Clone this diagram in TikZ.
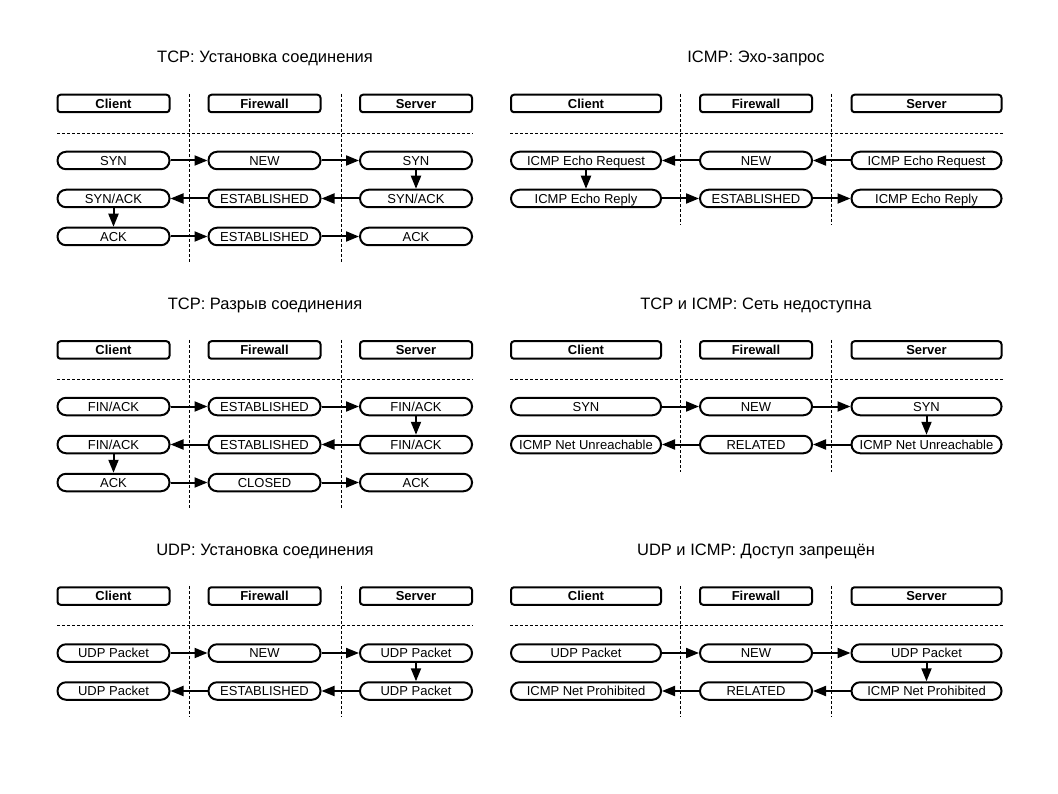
\documentclass[tikz,border=0pt]{standalone}
\usepackage{fontspec}
\setmainfont{Liberation Sans}
\usetikzlibrary{arrows.meta}
\tikzset{
  hdr/.style={draw, line width=2pt, rounded corners=3pt, minimum height=17.5pt,
    inner sep=0pt, font=\bfseries\fontsize{13}{15}\selectfont, text height=9.3pt, text depth=0pt},
  pill/.style={draw, line width=2pt, rounded corners=8.6pt, minimum height=17.5pt,
    inner sep=0pt, font=\fontsize{13}{15}\selectfont, text height=9.3pt, text depth=0pt},
  nw/.style={minimum width=112pt},
  ww/.style={minimum width=150pt},
  msg/.style={-{Triangle[length=13pt,width=10pt]}, line width=2pt},
  sep/.style={dash pattern=on 3pt off 2pt, line width=0.8pt},
  ttl/.style={font=\fontsize{16.5}{19}\selectfont, inner sep=0pt, text height=11.8pt, text depth=0pt}
}
\begin{document}
\begin{tikzpicture}[x=1pt,y=-1pt]
\useasboundingbox (0,0) rectangle (1058,794);
% ---------------- Panel A: TCP handshake
\node[ttl] (At) at (265,57) {TCP: Установка соединения};
\node[hdr,nw] (Ahc) at (113.5,103.5) {Client};
\node[hdr,nw] (Ahf) at (264.5,103.5) {Firewall};
\node[hdr,nw] (Ahs) at (416,103.5) {Server};
\coordinate (Ad1) at (57,133); \coordinate (Ad2) at (473,133);
\coordinate (Av1t) at (189,94); \coordinate (Av1b) at (189,263);
\coordinate (Av2t) at (341,94); \coordinate (Av2b) at (341,263);
\draw[sep] (Ad1) -- (Ad2); \draw[sep] (Av1t) -- (Av1b); \draw[sep] (Av2t) -- (Av2b);
\node[pill,nw] (Ac1) at (113.5,160.5) {SYN};
\node[pill,nw] (Af1) at (264.5,160.5) {NEW};
\node[pill,nw] (As1) at (416,160.5) {SYN};
\node[pill,nw] (Ac2) at (113.5,198.5) {SYN/ACK};
\node[pill,nw] (Af2) at (264.5,198.5) {ESTABLISHED};
\node[pill,nw] (As2) at (416,198.5) {SYN/ACK};
\node[pill,nw] (Ac3) at (113.5,236.5) {ACK};
\node[pill,nw] (Af3) at (264.5,236.5) {ESTABLISHED};
\node[pill,nw] (As3) at (416,236.5) {ACK};
\draw[msg] (Ac1) -- (Af1); \draw[msg] (Af1) -- (As1); \draw[msg] (As1) -- (As2);
\draw[msg] (As2) -- (Af2); \draw[msg] (Af2) -- (Ac2); \draw[msg] (Ac2) -- (Ac3);
\draw[msg] (Ac3) -- (Af3); \draw[msg] (Af3) -- (As3);
% ---------------- Panel B: ICMP echo
\node[ttl] (Bt) at (756,57) {ICMP: Эхо-запрос};
\node[hdr,ww] (Bhc) at (586,103.5) {Client};
\node[hdr,nw] (Bhf) at (756,103.5) {Firewall};
\node[hdr,ww] (Bhs) at (926.5,103.5) {Server};
\coordinate (Bd1) at (510,133); \coordinate (Bd2) at (1004,133);
\coordinate (Bv1t) at (680,94); \coordinate (Bv1b) at (680,225);
\coordinate (Bv2t) at (831,94); \coordinate (Bv2b) at (831,225);
\draw[sep] (Bd1) -- (Bd2); \draw[sep] (Bv1t) -- (Bv1b); \draw[sep] (Bv2t) -- (Bv2b);
\node[pill,ww] (Bc1) at (586,160.5) {ICMP Echo Request};
\node[pill,nw] (Bf1) at (756,160.5) {NEW};
\node[pill,ww] (Bs1) at (926.5,160.5) {ICMP Echo Request};
\node[pill,ww] (Bc2) at (586,198.5) {ICMP Echo Reply};
\node[pill,nw] (Bf2) at (756,198.5) {ESTABLISHED};
\node[pill,ww] (Bs2) at (926.5,198.5) {ICMP Echo Reply};
\draw[msg] (Bs1) -- (Bf1); \draw[msg] (Bf1) -- (Bc1); \draw[msg] (Bc1) -- (Bc2);
\draw[msg] (Bc2) -- (Bf2); \draw[msg] (Bf2) -- (Bs2);
% ---------------- Panel C: TCP teardown
\node[ttl] (Ct) at (265,303.5) {TCP: Разрыв соединения};
\node[hdr,nw] (Chc) at (113.5,350) {Client};
\node[hdr,nw] (Chf) at (264.5,350) {Firewall};
\node[hdr,nw] (Chs) at (416,350) {Server};
\coordinate (Cd1) at (57,379); \coordinate (Cd2) at (473,379);
\coordinate (Cv1t) at (189,340); \coordinate (Cv1b) at (189,509);
\coordinate (Cv2t) at (341,340); \coordinate (Cv2b) at (341,509);
\draw[sep] (Cd1) -- (Cd2); \draw[sep] (Cv1t) -- (Cv1b); \draw[sep] (Cv2t) -- (Cv2b);
\node[pill,nw] (Cc1) at (113.5,406.5) {FIN/ACK};
\node[pill,nw] (Cf1) at (264.5,406.5) {ESTABLISHED};
\node[pill,nw] (Cs1) at (416,406.5) {FIN/ACK};
\node[pill,nw] (Cc2) at (113.5,444.5) {FIN/ACK};
\node[pill,nw] (Cf2) at (264.5,444.5) {ESTABLISHED};
\node[pill,nw] (Cs2) at (416,444.5) {FIN/ACK};
\node[pill,nw] (Cc3) at (113.5,482.5) {ACK};
\node[pill,nw] (Cf3) at (264.5,482.5) {CLOSED};
\node[pill,nw] (Cs3) at (416,482.5) {ACK};
\draw[msg] (Cc1) -- (Cf1); \draw[msg] (Cf1) -- (Cs1); \draw[msg] (Cs1) -- (Cs2);
\draw[msg] (Cs2) -- (Cf2); \draw[msg] (Cf2) -- (Cc2); \draw[msg] (Cc2) -- (Cc3);
\draw[msg] (Cc3) -- (Cf3); \draw[msg] (Cf3) -- (Cs3);
% ---------------- Panel D: TCP & ICMP unreachable
\node[ttl] (Dt) at (756,303.5) {TCP и ICMP: Сеть недоступна};
\node[hdr,ww] (Dhc) at (586,350) {Client};
\node[hdr,nw] (Dhf) at (756,350) {Firewall};
\node[hdr,ww] (Dhs) at (926.5,350) {Server};
\coordinate (Dd1) at (510,379); \coordinate (Dd2) at (1004,379);
\coordinate (Dv1t) at (680,340); \coordinate (Dv1b) at (680,472);
\coordinate (Dv2t) at (831,340); \coordinate (Dv2b) at (831,472);
\draw[sep] (Dd1) -- (Dd2); \draw[sep] (Dv1t) -- (Dv1b); \draw[sep] (Dv2t) -- (Dv2b);
\node[pill,ww] (Dc1) at (586,406.5) {SYN};
\node[pill,nw] (Df1) at (756,406.5) {NEW};
\node[pill,ww] (Ds1) at (926.5,406.5) {SYN};
\node[pill,ww] (Dc2) at (586,444.5) {ICMP Net Unreachable};
\node[pill,nw] (Df2) at (756,444.5) {RELATED};
\node[pill,ww] (Ds2) at (926.5,444.5) {ICMP Net Unreachable};
\draw[msg] (Dc1) -- (Df1); \draw[msg] (Df1) -- (Ds1); \draw[msg] (Ds1) -- (Ds2);
\draw[msg] (Ds2) -- (Df2); \draw[msg] (Df2) -- (Dc2);
% ---------------- Panel E: UDP
\node[ttl] (Et) at (265,550) {UDP: Установка соединения};
\node[hdr,nw] (Ehc) at (113.5,596) {Client};
\node[hdr,nw] (Ehf) at (264.5,596) {Firewall};
\node[hdr,nw] (Ehs) at (416,596) {Server};
\coordinate (Ed1) at (57,625); \coordinate (Ed2) at (473,625);
\coordinate (Ev1t) at (189,586); \coordinate (Ev1b) at (189,717);
\coordinate (Ev2t) at (341,586); \coordinate (Ev2b) at (341,717);
\draw[sep] (Ed1) -- (Ed2); \draw[sep] (Ev1t) -- (Ev1b); \draw[sep] (Ev2t) -- (Ev2b);
\node[pill,nw] (Ec1) at (113.5,653) {UDP Packet};
\node[pill,nw] (Ef1) at (264.5,653) {NEW};
\node[pill,nw] (Es1) at (416,653) {UDP Packet};
\node[pill,nw] (Ec2) at (113.5,691) {UDP Packet};
\node[pill,nw] (Ef2) at (264.5,691) {ESTABLISHED};
\node[pill,nw] (Es2) at (416,691) {UDP Packet};
\draw[msg] (Ec1) -- (Ef1); \draw[msg] (Ef1) -- (Es1); \draw[msg] (Es1) -- (Es2);
\draw[msg] (Es2) -- (Ef2); \draw[msg] (Ef2) -- (Ec2);
% ---------------- Panel F: UDP & ICMP prohibited
\node[ttl] (Ft) at (756,550) {UDP и ICMP: Доступ запрещён};
\node[hdr,ww] (Fhc) at (586,596) {Client};
\node[hdr,nw] (Fhf) at (756,596) {Firewall};
\node[hdr,ww] (Fhs) at (926.5,596) {Server};
\coordinate (Fd1) at (510,625); \coordinate (Fd2) at (1004,625);
\coordinate (Fv1t) at (680,586); \coordinate (Fv1b) at (680,717);
\coordinate (Fv2t) at (831,586); \coordinate (Fv2b) at (831,717);
\draw[sep] (Fd1) -- (Fd2); \draw[sep] (Fv1t) -- (Fv1b); \draw[sep] (Fv2t) -- (Fv2b);
\node[pill,ww] (Fc1) at (586,653) {UDP Packet};
\node[pill,nw] (Ff1) at (756,653) {NEW};
\node[pill,ww] (Fs1) at (926.5,653) {UDP Packet};
\node[pill,ww] (Fc2) at (586,691) {ICMP Net Prohibited};
\node[pill,nw] (Ff2) at (756,691) {RELATED};
\node[pill,ww] (Fs2) at (926.5,691) {ICMP Net Prohibited};
\draw[msg] (Fc1) -- (Ff1); \draw[msg] (Ff1) -- (Fs1); \draw[msg] (Fs1) -- (Fs2);
\draw[msg] (Fs2) -- (Ff2); \draw[msg] (Ff2) -- (Fc2);
\end{tikzpicture}
\end{document}
